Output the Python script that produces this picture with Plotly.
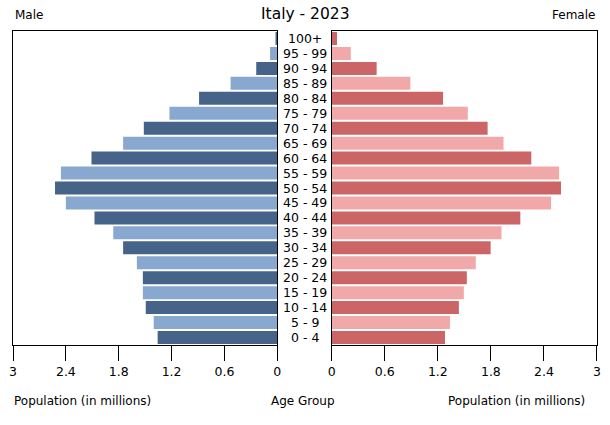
import plotly.graph_objects as go

age_groups = ["0 - 4", "5 - 9", "10 - 14", "15 - 19", "20 - 24", "25 - 29", "30 - 34",
              "35 - 39", "40 - 44", "45 - 49", "50 - 54", "55 - 59", "60 - 64", "65 - 69",
              "70 - 74", "75 - 79", "80 - 84", "85 - 89", "90 - 94", "95 - 99", "100+"]
male = [1.358, 1.403, 1.493, 1.526, 1.526, 1.594, 1.75, 1.862, 2.075, 2.40, 2.523,
        2.456, 2.109, 1.75, 1.515, 1.224, 0.888, 0.53, 0.239, 0.082, 0.02]
female = [1.281, 1.337, 1.438, 1.494, 1.528, 1.629, 1.797, 1.92, 2.133, 2.481, 2.593,
          2.571, 2.257, 1.943, 1.763, 1.539, 1.259, 0.889, 0.508, 0.216, 0.06]
tick_vals = [0, 0.6, 1.2, 1.8, 2.4, 3]
tick_text = ["0", "0.6", "1.2", "1.8", "2.4", "3"]

male_colors = ["#466389" if i % 2 == 0 else "#88a8cf" for i in range(len(age_groups))]
female_colors = ["#cc6666" if i % 2 == 0 else "#f0a8a8" for i in range(len(age_groups))]

fig = go.Figure()
fig.add_trace(go.Bar(x=male, y=age_groups, orientation="h", marker=dict(color=male_colors, line=dict(width=0)),
                     xaxis="x", yaxis="y", showlegend=False, hoverinfo="skip"))
fig.add_trace(go.Bar(x=female, y=age_groups, orientation="h", marker=dict(color=female_colors, line=dict(width=0)),
                     xaxis="x2", yaxis="y2", showlegend=False, hoverinfo="skip"))

W = 590.0
axis_common = dict(showline=True, linecolor="black", linewidth=1, mirror=True, ticks="outside",
                   ticklen=15, tickcolor="black", showgrid=False, zeroline=False,
                   tickvals=tick_vals, ticktext=tick_text, tickfont=dict(size=12.5, color="black"))
yaxis_common = dict(showline=True, linecolor="black", linewidth=1, mirror=True, showticklabels=False,
                    ticks="", showgrid=False, zeroline=False, type="category",
                    categoryorder="array", categoryarray=age_groups, range=[-0.5, 20.5])

annotations = []
for ag in age_groups:
    annotations.append(dict(x=0.5, xref="paper", y=ag, yref="y", text=ag, showarrow=False,
                            font=dict(size=12.5, color="black"), xanchor="center", yanchor="middle"))
annotations += [
    dict(x=0.5, xref="paper", y=1, yref="paper", yshift=17, text="Italy - 2023", showarrow=False,
         font=dict(size=15.5, color="black"), xanchor="center", yanchor="middle"),
    dict(x=0, xref="paper", y=1, yref="paper", yshift=16, text="Male", showarrow=False,
         font=dict(size=12, color="black"), xanchor="left", yanchor="middle"),
    dict(x=1, xref="paper", y=1, yref="paper", yshift=16, text="Female", showarrow=False,
         font=dict(size=12, color="black"), xanchor="right", yanchor="middle"),
    dict(x=0, xref="paper", y=0, yref="paper", yshift=-56, xshift=-1, text="Population (in millions)", showarrow=False,
         font=dict(size=12, color="black"), xanchor="left", yanchor="middle"),
    dict(x=0.5, xref="paper", y=0, yref="paper", yshift=-56, xshift=-2, text="Age Group", showarrow=False,
         font=dict(size=12, color="black"), xanchor="center", yanchor="middle"),
    dict(x=1, xref="paper", y=0, yref="paper", yshift=-56, xshift=-10, text="Population (in millions)", showarrow=False,
         font=dict(size=12, color="black"), xanchor="right", yanchor="middle"),
]

fig.update_layout(
    width=610, height=425,
    margin=dict(l=11, r=9, t=31, b=80),
    paper_bgcolor="white", plot_bgcolor="white",
    font=dict(family="DejaVu Sans", color="black"),
    bargap=0.13,
    hovermode=False,
    xaxis=dict(domain=[0, 267 / W], range=[3, 0], **axis_common),
    xaxis2=dict(domain=[322 / W, 1], range=[0, 3], **axis_common),
    yaxis=dict(anchor="x", **yaxis_common),
    yaxis2=dict(anchor="x2", **yaxis_common),
    annotations=annotations,
)

post = (
    "document.documentElement.style.margin='0';"
    "document.documentElement.style.overflow='hidden';"
    "document.body.style.margin='0';"
    "document.body.style.overflow='hidden';"
    "var gd=document.getElementById('{plot_id}');"
    "gd.style.position='absolute';gd.style.left='0px';gd.style.top='0px';"
)

fig.write_html("out.html", config={"displayModeBar": False, "responsive": False}, post_script=post)
